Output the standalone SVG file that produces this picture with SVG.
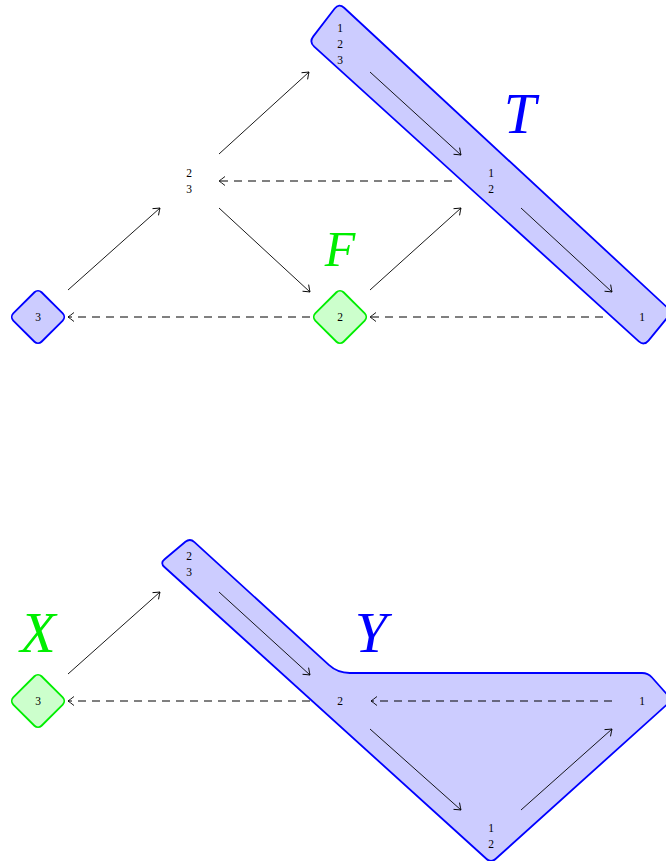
<svg xmlns="http://www.w3.org/2000/svg" width="666" height="861" viewBox="0 0 666 861">
<style>
.lbl{font-family:"Liberation Serif","DejaVu Serif",serif;font-size:11.5px;fill:#000;text-anchor:middle}
.big{font-family:"Liberation Serif","DejaVu Serif",serif;font-style:italic;text-anchor:middle}
.blueR{fill:#ccccff;stroke:#0000ff;stroke-width:1.8}
.greenR{fill:#ccffcc;stroke:#00ee00;stroke-width:1.8}
.ar{stroke:#000;stroke-width:0.9;fill:none;marker-end:url(#ah)}
.da{stroke:#000;stroke-width:1;fill:none;stroke-dasharray:8 6;marker-end:url(#ah)}
</style>
<defs>
<marker id="ah" markerUnits="userSpaceOnUse" markerWidth="14" markerHeight="14" viewBox="-8 -7 9 14" refX="0" refY="0" orient="auto" overflow="visible">
<path d="M -6 -4.5 Q -1.8 -1.2 0 0 Q -1.8 1.2 -6 4.5" fill="none" stroke="#000" stroke-width="0.9"/>
</marker>
</defs>
<g id="regions">
<path id="regionT" class="blueR" d="M 334.7 8.55 Q 339 3 344.1 7.76 L 666.9 307.2 Q 672 312 667.5 317.4 L 648.5 340.6 Q 644 346 638.8 341.3 L 314.2 46.7 Q 309 42 313.3 36.4 Z"/>
<path id="regionY" class="blueR" d="M 194.4 542.05 L 328.8 664.9 Q 337.7 673 349.7 673 L 642 673 Q 648 673 652 677.5 L 668 695.5 Q 672 700 667.5 704 L 495.5 859 Q 491 863 486.6 859 L 164.4 567 Q 160 563 164.6 559.2 L 185.4 541.8 Q 190 538 194.4 542.05 Z"/>
</g>
<g id="connectors">
<line class="ar" x1="68" y1="290" x2="160" y2="208"/>
<line class="ar" x1="219" y1="154" x2="309" y2="72"/>
<line class="ar" x1="219" y1="208" x2="310" y2="292"/>
<line class="ar" x1="370" y1="72" x2="461" y2="155"/>
<line class="ar" x1="370" y1="290" x2="461" y2="208"/>
<line class="ar" x1="521" y1="208" x2="612" y2="292"/>
<line class="da" x1="452" y1="181" x2="219" y2="181"/>
<line class="da" x1="603" y1="317" x2="370" y2="317"/>
<line class="da" x1="310" y1="317" x2="68" y2="317"/>
<line class="ar" x1="68" y1="674" x2="160" y2="592"/>
<line class="ar" x1="219" y1="592" x2="310" y2="675"/>
<line class="ar" x1="370" y1="729" x2="461" y2="810"/>
<line class="ar" x1="521" y1="810" x2="612" y2="729"/>
<line class="da" x1="612" y1="701" x2="371" y2="701"/>
<line class="da" x1="310" y1="701" x2="68" y2="701"/>
</g>
<g id="n_top_3"><rect class="blueR" x="-20" y="-20" width="40" height="40" rx="5" transform="translate(38 317) rotate(45)"/><text class="lbl" x="38" y="321">3</text></g>
<g id="n_top_23"><text class="lbl" x="189" y="177">2</text><text class="lbl" x="189" y="193">3</text></g>
<g id="n_top_123"><text class="lbl" x="340" y="32">1</text><text class="lbl" x="340" y="48">2</text><text class="lbl" x="340" y="64">3</text></g>
<g id="n_top_2"><rect class="greenR" x="-20" y="-20" width="40" height="40" rx="5" transform="translate(340 317) rotate(45)"/><text class="lbl" x="340" y="321">2</text></g>
<g id="n_top_12"><text class="lbl" x="491" y="177">1</text><text class="lbl" x="491" y="193">2</text></g>
<g id="n_top_1"><text class="lbl" x="642" y="321">1</text></g>
<g id="n_bot_3"><rect class="greenR" x="-20" y="-20" width="40" height="40" rx="5" transform="translate(38 701) rotate(45)"/><text class="lbl" x="38" y="705">3</text></g>
<g id="n_bot_23"><text class="lbl" x="189" y="560">2</text><text class="lbl" x="189" y="576">3</text></g>
<g id="n_bot_2"><text class="lbl" x="340" y="705">2</text></g>
<g id="n_bot_1"><text class="lbl" x="642" y="705">1</text></g>
<g id="n_bot_12"><text class="lbl" x="491" y="832">1</text><text class="lbl" x="491" y="848">2</text></g>
<g id="labels">
<text class="big" x="520" y="133" font-size="58" fill="#0000ff">T</text>
<text class="big" x="340" y="266" font-size="50" fill="#00ee00">F</text>
<text class="big" x="38" y="652" font-size="58" fill="#00ee00">X</text>
<text class="big" x="371" y="652" font-size="58" fill="#0000ff">Y</text>
</g>
</svg>
